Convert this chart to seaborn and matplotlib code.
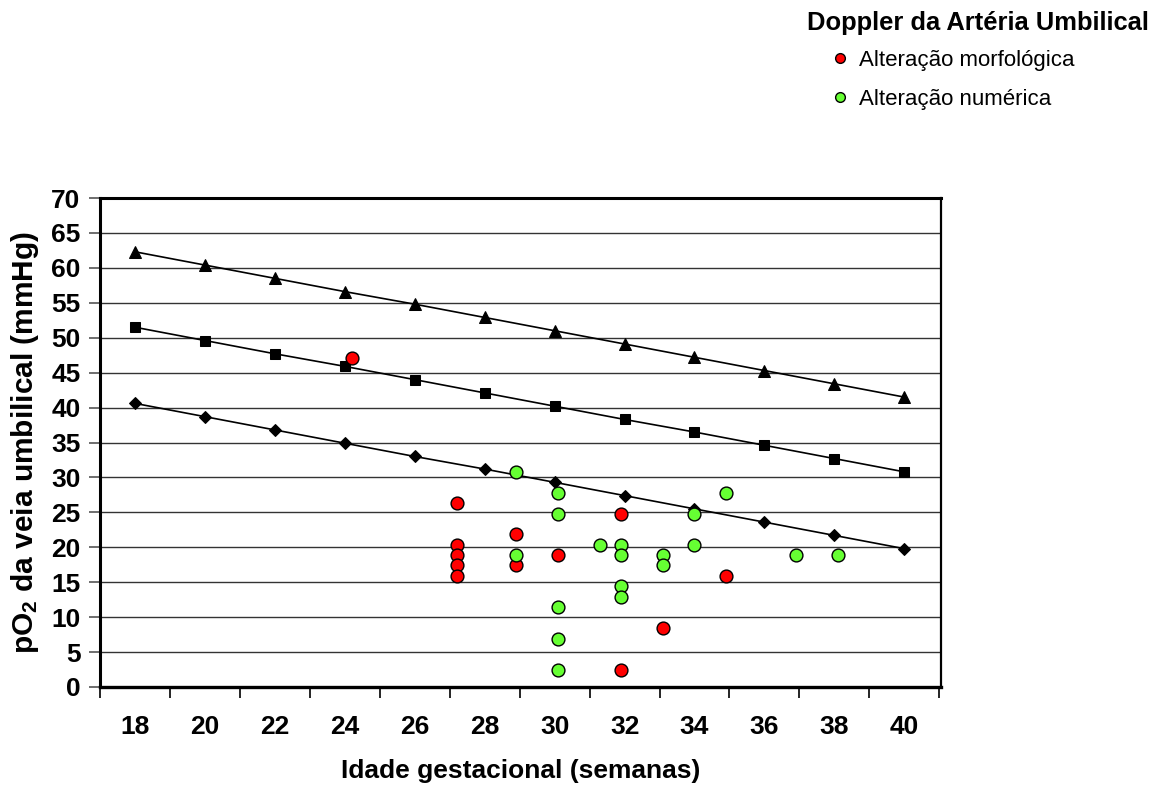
import matplotlib
matplotlib.use("Agg")
import matplotlib.pyplot as plt
from matplotlib.lines import Line2D
import numpy as np
import pandas as pd
import seaborn as sns

# Reference curves of umbilical vein pO2 by gestational age
weeks = [18, 20, 22, 24, 26, 28, 30, 32, 34, 36, 38, 40]
curve_upper = [62.3, 60.4, 58.5, 56.6, 54.8, 52.9, 51.0, 49.1, 47.2, 45.3, 43.4, 41.5]
curve_middle = [51.5, 49.6, 47.7, 45.9, 44.0, 42.1, 40.2, 38.3, 36.5, 34.6, 32.7, 30.8]
curve_lower = [40.6, 38.7, 36.8, 34.9, 33.0, 31.2, 29.3, 27.4, 25.5, 23.6, 21.7, 19.8]

# Individual cases: morphological change (red)
morf_age = [24.2, 27.2, 27.2, 27.2, 27.2, 27.2, 28.9, 28.9, 30.1, 31.9, 31.9, 33.1, 34.9]
morf_po2 = [47.1, 26.3, 20.3, 18.85, 17.4, 15.9, 21.85, 17.4, 18.85, 24.8, 2.5, 8.45, 15.9]

# Individual cases: numerical change (green)
num_age = [28.9, 28.9, 30.1, 30.1, 30.1, 30.1, 30.1, 31.3, 31.9, 31.9, 31.9, 31.9,
           33.1, 33.1, 34.0, 34.0, 34.9, 36.9, 38.1]
num_po2 = [30.8, 18.85, 27.8, 24.8, 11.4, 6.9, 2.5, 20.3, 20.3, 18.85, 14.4, 12.9,
           18.85, 17.4, 24.8, 20.3, 27.8, 18.85, 18.85]

x_labels = [str(w) for w in weeks]
y_ticks = list(range(0, 75, 5))

sns.set_theme(style="white")
plt.rcParams["font.family"] = ["Liberation Sans", "DejaVu Sans"]
plt.rcParams["mathtext.fontset"] = "custom"
plt.rcParams["mathtext.rm"] = "Liberation Sans:bold"
plt.rcParams["mathtext.default"] = "rm"
for key in ["text.color", "axes.labelcolor", "xtick.color", "ytick.color"]:
    plt.rcParams[key] = "black"

fig = plt.figure(figsize=(11.58, 7.9), dpi=100)
ax = fig.add_axes([100 / 1158, 1 - 687 / 790, 841 / 1158, 489 / 790])

# horizontal gridlines
for yv in y_ticks[1:]:
    ax.axhline(yv, color="#333333", lw=1.0, zorder=0)

curves = pd.DataFrame({"semana": weeks, "upper": curve_upper,
                       "middle": curve_middle, "lower": curve_lower})
for col, mk, ms in [("upper", "^", 8), ("middle", "s", 7), ("lower", "D", 6)]:
    sns.lineplot(data=curves, x="semana", y=col, ax=ax, color="black", lw=1.2,
                 marker=mk, markersize=ms, markeredgecolor="black", zorder=3)

sns.scatterplot(x=morf_age, y=morf_po2, ax=ax, color="#ff0000", s=85,
                edgecolor="black", linewidth=1.0, zorder=4)
sns.scatterplot(x=num_age, y=num_po2, ax=ax, color="#66ff33", s=85,
                edgecolor="black", linewidth=1.0, zorder=4)

ax.set_xlim(17, 41.05)
ax.set_ylim(0, 70)

# major ticks between categories, labels on the category centres
ax.set_xticks(np.arange(17, 42, 2))
ax.set_xticklabels([])
ax.set_xticks(weeks, minor=True)
ax.set_xticklabels(x_labels, minor=True)
ax.tick_params(axis="x", which="major", direction="out", length=8, width=1.2,
               color="black", bottom=True)
ax.tick_params(axis="x", which="minor", length=0, pad=20, labelsize=19)
for t in ax.get_xticklabels(minor=True):
    t.set_fontweight("bold")

ax.set_yticks(y_ticks)
ax.set_yticklabels([str(v) for v in y_ticks], fontweight="bold")
ax.tick_params(axis="y", direction="out", length=8, width=1.2, color="#555555",
               left=True, pad=6, labelsize=19)

for side, w in [("left", 2.2), ("bottom", 2.4), ("top", 2.2), ("right", 1.6)]:
    ax.spines[side].set_visible(True)
    ax.spines[side].set_color("black")
    ax.spines[side].set_linewidth(w)

ax.set_xlabel("Idade gestacional (semanas)", fontsize=19, fontweight="bold")
ax.set_ylabel("pO$_{2}$ da veia umbilical (mmHg)", fontsize=21.5,
              fontweight="bold")
ax.xaxis.set_label_coords(0.5, -0.148)
ax.yaxis.set_label_coords(-0.07, 0.5)

# legend in the upper right corner
fig.text(807 / 1158, 1 - 30 / 790, "Doppler da Artéria Umbilical",
         fontsize=18.4, fontweight="bold", ha="left", va="baseline")
handles = [
    Line2D([], [], ls="none", marker="o", markersize=7, markerfacecolor="#ff0000",
           markeredgecolor="black", markeredgewidth=1.0),
    Line2D([], [], ls="none", marker="o", markersize=7, markerfacecolor="#66ff33",
           markeredgecolor="black", markeredgewidth=1.0),
]
fig.legend(handles, ["Alteração morfológica", "Alteração numérica"],
           loc="upper left", bbox_to_anchor=(829 / 1158, 1 - 50 / 790),
           frameon=False, fontsize=16, handletextpad=0.35, labelspacing=0.79,
           borderpad=0.0, borderaxespad=0.0, handlelength=1.0)

fig.savefig("out.png", dpi=100)
